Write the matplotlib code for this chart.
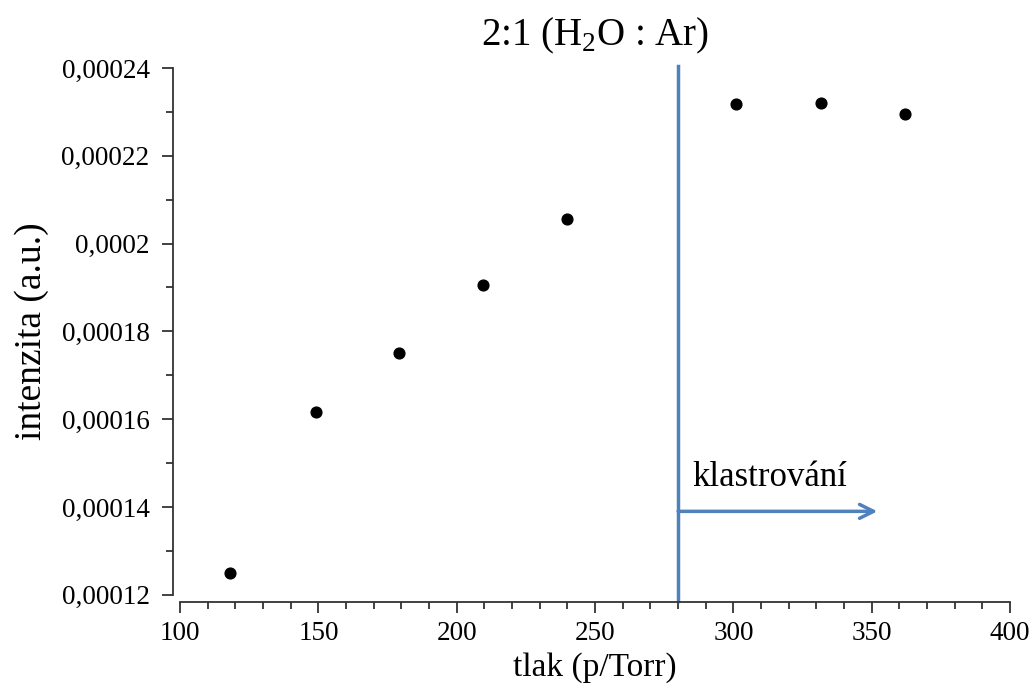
import matplotlib.pyplot as plt
from matplotlib.ticker import MultipleLocator, FuncFormatter

plt.rcParams["font.family"] = ["Liberation Serif", "DejaVu Serif"]
plt.rcParams["mathtext.fontset"] = "custom"
plt.rcParams["mathtext.rm"] = "Liberation Serif"

pressure = [118, 149, 179, 209.5, 240, 301, 331.5, 362]
intensity = [0.000125, 0.0001617, 0.0001751, 0.0001906, 0.0002056,
             0.0002318, 0.0002321, 0.0002296]
cluster_start = 280
arrow_end = 352
arrow_y = 0.000139

fig = plt.figure(figsize=(10.35, 6.86), dpi=100)
ax = fig.add_axes([0.174, 0.133, 0.802, 0.768])

ax.scatter(pressure, intensity, s=60, color="black", zorder=3)

ax.set_xlim(100, 400)
ax.set_ylim(0.00012, 0.00024)

# cluster onset line + arrow
ax.plot([cluster_start, cluster_start], [0.00012 - 0.0000015, 0.00024 + 0.0000005],
        color="#4f81bd", lw=2.5, clip_on=False, zorder=2)
ax.annotate("", xy=(arrow_end, arrow_y), xytext=(cluster_start, arrow_y),
            arrowprops=dict(arrowstyle="->", color="#4f81bd", lw=2.5,
                            mutation_scale=25, shrinkA=0, shrinkB=0))
ax.text(cluster_start + 5, arrow_y + 0.000004, "klastrování", fontsize=25,
        ha="left", va="bottom")

ax.set_title("2:1 (H$_2$O : Ar)", fontsize=28, pad=16)
ax.set_xlabel("tlak (p/Torr)", fontsize=24, labelpad=4)
ax.set_ylabel("intenzita (a.u.)", fontsize=27, labelpad=9)

for side in ("top", "right"):
    ax.spines[side].set_visible(False)
for side in ("left", "bottom"):
    ax.spines[side].set_position(("outward", 5))
    ax.spines[side].set_linewidth(1.3)
    ax.spines[side].set_color("#333333")

ax.xaxis.set_major_locator(MultipleLocator(50))
ax.xaxis.set_minor_locator(MultipleLocator(10))
ax.yaxis.set_major_locator(MultipleLocator(0.00002))
ax.yaxis.set_minor_locator(MultipleLocator(0.00001))
ax.yaxis.set_major_formatter(FuncFormatter(
    lambda v, _: f"{v:.5f}".rstrip("0").replace(".", ",")))

ax.tick_params(which="major", direction="out", length=8, width=1.3,
               labelsize=19.5, color="#333333")
ax.tick_params(which="minor", direction="out", length=5, width=1.3,
               color="#333333")
ax.tick_params(axis="y", which="major", pad=9)
ax.tick_params(axis="x", which="major", pad=6)

fig.savefig("out.png", dpi=100)
